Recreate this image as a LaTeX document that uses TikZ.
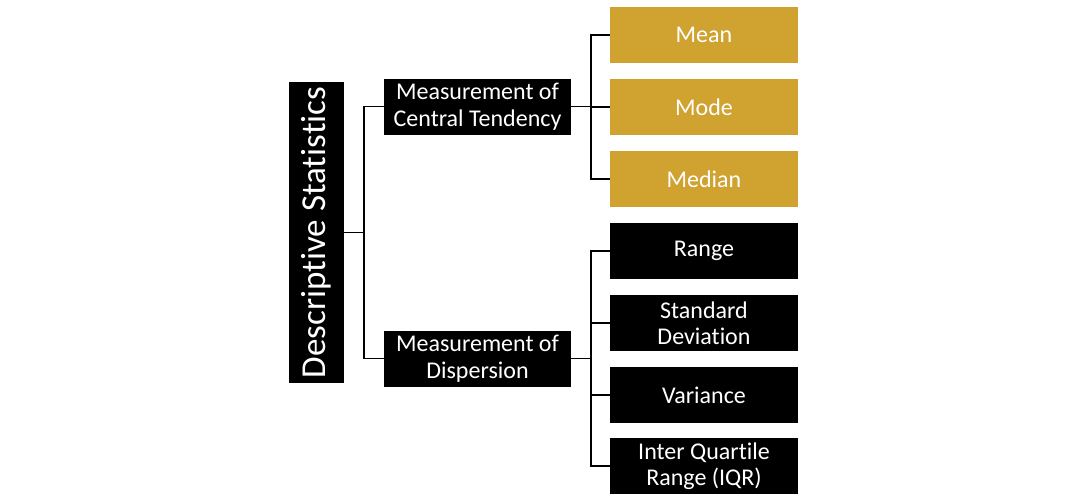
\documentclass[tikz,border=0pt]{standalone}
\usepackage{fontspec}
\setmainfont{Carlito}[Ligatures={NoCommon,NoRare,NoContextual}]
\definecolor{gold}{RGB}{208,162,48}
\begin{document}
\begin{tikzpicture}[x=1pt,y=-1pt,
  box/.style={rectangle,inner sep=0pt,text=white,align=center,
    font=\fontsize{24}{26.5}\selectfont},
  mid/.style={box,fill=black,minimum width=187pt,minimum height=56pt},
  gleaf/.style={box,fill=gold,minimum width=188pt,minimum height=56pt},
  bleaf/.style={box,fill=black,minimum width=188pt,minimum height=56pt},
  link/.style={draw=black,line width=1.2pt}]
\path[use as bounding box] (0,0) rectangle (1092,498);

% root, written bottom to top
\node[box,fill=black,minimum width=55pt,minimum height=301pt] (root) at (316.5,232.5) {};
\node[text=white,rotate=90,font=\fontsize{35}{40}\selectfont,inner sep=0pt] (roottext) at (root.center) {Descriptive Statistics};

% second level
\node[mid] (mct) at (477.5,106.5) {Measurement of\\Central Tendency};
\node[mid] (md) at (477.5,358.5) {Measurement of\\Dispersion};

% central tendency leaves
\node[gleaf] (mean) at (704,35) {Mean};
\node[gleaf] (mode) at (704,107) {Mode};
\node[gleaf] (median) at (704,179) {Median};

% dispersion leaves
\node[bleaf] (range) at (704,251) {Range};
\node[bleaf] (sd) at (704,323) {Standard\\Deviation};
\node[bleaf] (var) at (704,395) {Variance};
\node[bleaf] (iqr) at (704,466) {Inter Quartile\\Range (IQR)};

% branch points
\coordinate (rj) at (364,232.5);
\coordinate (cj) at (591,106.5);
\coordinate (dj) at (591,358.5);

% connectors
\draw[link] (root.east) -- (rj);
\draw[link] (mct.west) -| (rj);
\draw[link] (md.west) -| (rj);

\draw[link] (mct.east) -- (cj);
\draw[link] (mean.west) -| (cj);
\draw[link] (mode.west) -- (mode.west -| cj);
\draw[link] (median.west) -| (cj);

\draw[link] (md.east) -- (dj);
\draw[link] (range.west) -| (dj);
\draw[link] (sd.west) -| (dj);
\draw[link] (var.west) -| (dj);
\draw[link] (iqr.west) -| (dj);
\end{tikzpicture}
\end{document}
